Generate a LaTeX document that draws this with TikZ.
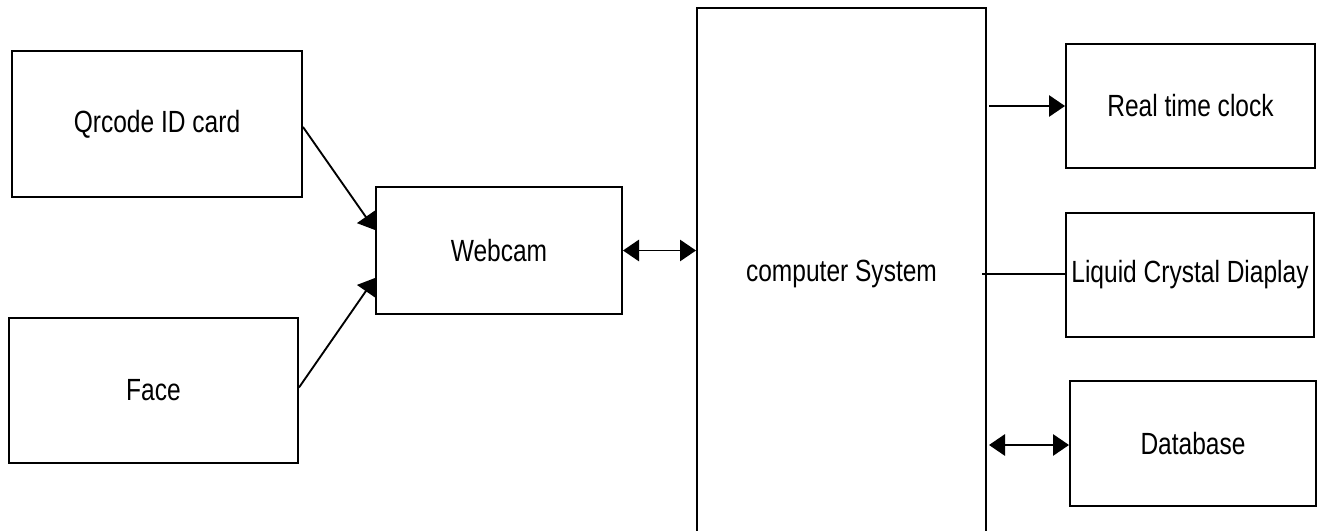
\documentclass[tikz,border=0pt]{standalone}
\usepackage{fontspec}
\newfontfamily\narrowsans[FakeStretch=0.8]{Liberation Sans}
\usetikzlibrary{arrows.meta,calc}
\begin{document}
\begin{tikzpicture}[x=0.75pt,y=-0.75pt,
  box/.style={draw,line width=1.5pt,rectangle,inner sep=0pt,font=\narrowsans\fontsize{23}{27}\selectfont},
  conn/.style={line width=1.4pt},
  tip/.style={-{Triangle[length=12pt,width=16pt]}},
  dtip/.style={{Triangle[length=12pt,width=16pt]}-{Triangle[length=12pt,width=16pt]}}]
\useasboundingbox (0,0) rectangle (1317,531);
\clip (0,0) rectangle (1317,531);
\node[box,minimum width=290*0.75pt,minimum height=146*0.75pt] (qr) at (157,124) {Qrcode ID card};
\node[box,minimum width=289*0.75pt,minimum height=145*0.75pt] (face) at (153.5,390.5) {Face};
\node[box,minimum width=246*0.75pt,minimum height=127*0.75pt] (web) at (499,250.5) {Webcam};
\node[box,minimum width=289*0.75pt,minimum height=532*0.75pt] (comp) at (841.5,274) {computer System};
\node[box,minimum width=249*0.75pt,minimum height=124*0.75pt] (rtc) at (1190.5,106) {Real time clock};
\node[box,minimum width=248*0.75pt,minimum height=124*0.75pt] (lcd) at (1190,275) {Liquid Crystal Diaplay};
\node[box,minimum width=246*0.75pt,minimum height=125*0.75pt] (db) at (1193,443.5) {Database};
\coordinate (qrout) at ($(qr.east)+(0,3)$);
\coordinate (facein) at ($(face.east)+(0,-3)$);
\coordinate (webtop) at ($(web.west)+(0,-20.5)$);
\coordinate (webbot) at ($(web.west)+(0,27.5)$);
\coordinate (r0) at (989,106);
\coordinate (l0) at (982,274);
\coordinate (d0) at (989,445);
\draw[conn,tip] (qrout) -- (webtop);
\draw[conn,tip] (facein) -- (webbot);
\draw[conn,dtip] (web.east) -- (web.east -| comp.west);
\draw[conn,tip] (r0) -- (r0 -| rtc.west);
\draw[conn] (l0) -- (l0 -| lcd.west);
\draw[conn,dtip] (d0) -- (d0 -| db.west);
\end{tikzpicture}
\end{document}
